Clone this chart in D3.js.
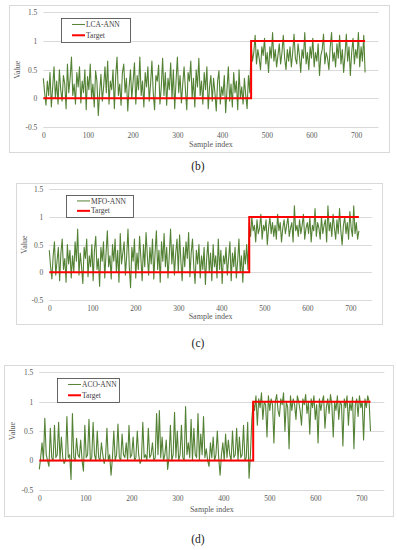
<!DOCTYPE html>
<html lang="en">
<head>
<meta charset="UTF-8">
<title>Value vs sample index</title>
<script src="https://cdn.jsdelivr.net/npm/d3@7"></script>
<style>
    body { margin: 0; background: #fff; }
    svg text { font-family: "Liberation Serif", "DejaVu Serif", serif; }
</style>
</head>
<body>
<script>
// sample index of each point = position * 3 (0..720)
var step = 3
var switchAt = 465

// LCA-ANN output
var lcaValues = [
    0.35, 0.1, -0.12, 0.3, 0.05, 0.45, -0.15, 0.2, 0.55, 0.0,
    0.3, -0.1, 0.5, 0.15, -0.05, 0.4, 0.25, -0.18, 0.6, 0.1,
    0.35, 0.72, 0.05, 0.25, -0.1, 0.45, 0.2, 0.55, -0.08, 0.3,
    0.1, 0.5, -0.2, 0.38, 0.15, 0.6, 0.0, 0.25, -0.15, 0.48,
    0.3, -0.3, 0.1, 0.42, -0.05, 0.2, 0.55, 0.1, 0.65, -0.1,
    0.3, 0.15, 0.5, -0.18, 0.4, 0.72, 0.05, 0.25, -0.12, 0.45,
    0.6, 0.1, 0.35, -0.22, 0.2, 0.5, 0.0, 0.3, 0.62, -0.1,
    0.4, 0.15, 0.72, 0.05, 0.3, -0.15, 0.45, 0.2, 0.55, -0.05,
    0.25, 0.65, 0.1, -0.2, 0.4, 0.3, 0.58, -0.1, 0.2, 0.7,
    0.05, 0.45, -0.12, 0.35, 0.15, 0.62, 0.0, 0.5, -0.18, 0.3,
    0.72, 0.1, 0.4, -0.08, 0.25, 0.55, 0.15, -0.2, 0.45, 0.3,
    0.65, 0.0, 0.35, -0.15, 0.5, 0.2, 0.7, 0.05, 0.3, -0.1,
    0.45, 0.15, 0.55, -0.18, 0.2, 0.4, -0.05, 0.35, 0.1, -0.22,
    0.3, 0.48, -0.1, 0.2, 0.05, 0.4, -0.25, 0.15, 0.55, -0.05,
    0.25, -0.15, 0.45, 0.1, 0.3, -0.2, 0.5, 0.0, 0.2, -0.1,
    0.35, 0.05, -0.18, 0.4, 0.1,
    0.95, 0.65, 0.8, 1.1, 0.6, 0.85, 0.7, 0.5, 0.9, 0.75,
    1.05, 0.6, 0.8, 0.45, 0.9, 0.7, 1.15, 0.65, 0.85, 0.55,
    0.75, 0.95, 0.6, 0.8, 1.1, 0.7, 0.5, 0.85, 0.65, 0.9,
    0.55, 0.8, 1.12, 0.7, 0.6, 0.95, 0.75, 0.45, 0.85, 0.7,
    1.15, 0.6, 0.8, 0.5, 0.9, 0.7, 1.05, 0.55, 0.8, 0.65,
    0.95, 0.4, 0.75, 0.85, 1.12, 0.6, 0.8, 0.7, 0.5, 0.9,
    1.15, 0.65, 0.8, 0.55, 0.95, 0.7, 1.1, 0.6, 0.85, 0.45,
    0.75, 1.12, 0.65, 0.9, 0.4, 0.8, 1.05, 0.6, 0.85, 0.7,
    1.15, 0.55, 0.9, 0.65, 1.1, 0.45
]

// MFO-ANN output
var mfoValues = [
    0.4, 0.1, -0.12, 0.3, 0.55, -0.05, 0.2, 0.45, -0.15, 0.35,
    0.6, 0.05, 0.25, -0.18, 0.5, 0.15, 0.4, -0.1, 0.3, 0.0,
    0.55, 0.2, 0.78, -0.05, 0.35, 0.1, -0.2, 0.45, 0.25, 0.6,
    -0.08, 0.3, 0.1, 0.5, -0.15, 0.4, 0.65, 0.05, 0.25, -0.25,
    0.45, 0.2, 0.55, -0.1, 0.35, 0.75, 0.1, 0.3, -0.12, 0.5,
    0.2, 0.6, 0.0, 0.4, -0.18, 0.7, 0.15, 0.35, 0.55, -0.05,
    0.3, 0.78, 0.1, -0.28, 0.45, 0.2, 0.6, -0.1, 0.35, 0.05,
    0.65, 0.25, -0.15, 0.5, 0.1, 0.72, 0.3, -0.05, 0.45, 0.15,
    0.6, -0.12, 0.35, 0.75, 0.05, 0.4, -0.18, 0.55, 0.2, 0.7,
    0.1, 0.45, -0.1, 0.3, 0.78, 0.15, 0.5, -0.05, 0.35, 0.6,
    0.0, 0.68, 0.2, -0.15, 0.45, 0.1, 0.55, 0.25, 0.72, -0.08,
    0.35, 0.6, 0.1, -0.2, 0.4, 0.15, 0.5, -0.1, 0.3, 0.05,
    0.45, -0.22, 0.25, 0.55, 0.0, 0.35, -0.15, 0.5, 0.1, 0.3,
    -0.1, 0.6, 0.05, 0.4, -0.2, 0.3, 0.15, 0.45, -0.05, 0.25,
    0.55, -0.15, 0.35, 0.1, 0.45, -0.1, 0.2, 0.6, 0.0, 0.3,
    -0.18, 0.4, 0.15, 0.5, 0.05,
    0.9, 0.65, 1.0, 0.75, 0.85, 0.55, 0.95, 0.7, 0.8, 1.05,
    0.6, 0.85, 0.75, 0.95, 0.5, 0.8, 1.0, 0.7, 0.9, 0.65,
    0.85, 0.6, 1.05, 0.75, 0.9, 0.55, 0.8, 0.95, 0.7, 0.85,
    1.0, 0.65, 0.8, 0.9, 0.55, 1.2, 0.75, 0.85, 0.65, 0.95,
    0.7, 0.85, 1.05, 0.6, 0.8, 0.9, 0.7, 1.0, 0.55, 0.85,
    0.75, 1.15, 0.65, 0.9, 0.8, 0.6, 1.0, 0.7, 0.85, 0.95,
    0.55, 1.2, 0.75, 0.9, 0.65, 1.05, 0.8, 0.6, 0.95, 0.7,
    1.15, 0.75, 0.5, 0.85, 1.0, 0.7, 0.9, 0.6, 1.1, 0.8,
    0.65, 1.2, 0.7, 0.9, 0.6, 0.75
]

// ACO-ANN output
var acoValues = [
    -0.15, 0.05, 0.3, 0.0, 0.72, 0.1, 0.0, -0.1, 0.55, 0.05,
    0.0, 0.6, 0.05, 0.1, 0.65, 0.0, 0.4, 0.05, -0.05, 0.0,
    0.75, 0.05, 0.1, -0.32, 0.8, 0.05, 0.0, 0.38, 0.1, 0.05,
    0.35, 0.0, -0.18, 0.6, 0.05, 0.1, 0.7, 0.0, 0.05, 0.65,
    0.1, 0.0, 0.5, 0.05, 0.0, 0.3, 0.1, -0.05, 0.05, 0.55,
    0.0, 0.1, -0.25, 0.05, 0.5, 0.0, 0.1, 0.62, 0.05, 0.0,
    0.45, 0.1, 0.05, 0.3, 0.0, 0.6, 0.05, 0.1, 0.4, 0.0,
    0.05, 0.5, 0.1, -0.05, 0.0, 0.65, 0.05, 0.1, 0.0, 0.55,
    0.05, 0.1, 0.3, 0.0, 0.05, 0.8, 0.1, 0.85, 0.05, 0.4,
    0.0, 0.1, 0.35, -0.15, 0.05, 0.6, 0.0, 0.1, 0.82, 0.05,
    0.5, 0.0, 0.1, 0.6, 0.05, 0.0, 0.92, 0.1, 0.3, 0.05,
    0.7, 0.0, 0.55, 0.1, 0.05, 0.8, 0.0, 0.45, 0.1, 0.75,
    0.05, 0.2, 0.0, -0.1, 0.3, 0.05, 0.4, 0.0, 0.1, 0.5,
    0.05, -0.25, 0.1, 0.3, 0.0, 0.45, 0.05, 0.35, 0.1, 0.0,
    0.5, 0.05, 0.1, 0.55, 0.0, 0.4, 0.05, 0.1, 0.6, 0.0,
    0.05, 0.65, -0.3, 0.1, 0.7,
    1.0, 0.85, 1.1, 0.6, 1.05, 0.9, 1.15, 0.7, 1.0, 0.95,
    0.4, 1.1, 0.85, 1.05, 0.95, 0.3, 1.0, 1.12, 0.85, 0.75,
    1.05, 0.95, 1.15, 0.5, 1.0, 0.9, 0.2, 1.1, 0.85, 1.05,
    0.95, 0.7, 1.1, 1.0, 0.85, 0.6, 1.05, 0.95, 1.12, 0.8,
    1.0, 0.45, 1.05, 0.9, 1.1, 0.7, 0.95, 0.3, 1.05, 0.85,
    1.0, 1.1, 0.55, 0.9, 1.05, 0.8, 1.12, 0.95, 0.4, 1.0,
    0.85, 1.1, 0.7, 1.0, 0.95, 0.25, 1.05, 0.9, 1.1, 0.6,
    1.0, 0.85, 1.08, 0.2, 0.95, 1.05, 0.75, 1.1, 0.9, 1.0,
    0.35, 1.05, 0.9, 1.1, 1.0, 0.5
]

// target: 0 before the switch, 1 after
var targetX = [0, switchAt, switchAt, 720]
var targetY = [0, 0, 1, 1]

var xTicks = [0, 100, 200, 300, 400, 500, 600, 700]
var yTicks = [-0.5, 0, 0.5, 1, 1.5]

var svg = d3.select('body').append('svg')
    .attr('width', 397)
    .attr('height', 550)

// layout of the three stacked panels
var panels = [
    { name: 'LCA-ANN', values: lcaValues, caption: '(b)',
      box: [9, 5, 389, 152], x: [43.3, 378.5], y: [127, 12.4],
      legend: [61, 18, 69, 24], yLab: 17, xLab: 147, capY: 170 },
    { name: 'MFO-ANN', values: mfoValues, caption: '(c)',
      box: [16, 183, 382, 324], x: [49.3, 371.8], y: [300, 189.3],
      legend: [66, 195, 67, 22], yLab: 24, xLab: 319, capY: 347 },
    { name: 'ACO-ANN', values: acoValues, caption: '(d)',
      box: [4, 365, 393, 516], x: [39.3, 384.3], y: [490, 372.3],
      legend: [57, 378, 62, 24], yLab: 12, xLab: 512, capY: 543 }
]

panels.forEach(function (p) {
    var g = svg.append('g')

    // outer chart border
    g.append('rect')
        .attr('x', p.box[0] + 0.5).attr('y', p.box[1] + 0.5)
        .attr('width', p.box[2] - p.box[0]).attr('height', p.box[3] - p.box[1])
        .attr('fill', '#fff').attr('stroke', '#d9d9d9')

    var x = d3.scaleLinear().domain([0, 750]).range(p.x)
    var y = d3.scaleLinear().domain([-0.5, 1.5]).range(p.y)

    // horizontal gridlines
    g.selectAll('.grid').data(yTicks).enter().append('line')
        .attr('x1', p.x[0]).attr('x2', p.x[1])
        .attr('y1', function (d) { return Math.round(y(d)) + 0.5 })
        .attr('y2', function (d) { return Math.round(y(d)) + 0.5 })
        .attr('stroke', '#d9d9d9')

    // y axis labels
    var yAxis = d3.axisLeft(y).tickValues(yTicks).tickSize(0).tickPadding(6)
        .tickFormat(function (d) { return d })
    g.append('g').attr('transform', 'translate(' + p.x[0] + ',0)').call(yAxis)
        .call(function (s) {
            s.select('.domain').remove()
            s.selectAll('text').attr('fill', '#595959').attr('font-size', '7.5px')
                .attr('font-family', '"Liberation Serif", serif')
        })

    // x axis labels
    var xAxis = d3.axisBottom(x).tickValues(xTicks).tickSize(0).tickPadding(6)
    g.append('g').attr('transform', 'translate(0,' + p.y[0] + ')').call(xAxis)
        .call(function (s) {
            s.select('.domain').remove()
            s.selectAll('text').attr('fill', '#595959').attr('font-size', '7.5px')
                .attr('font-family', '"Liberation Serif", serif')
        })

    // series line
    var line = d3.line()
        .x(function (d, i) { return x(i * step) })
        .y(function (d) { return y(d) })
    g.append('path').datum(p.values)
        .attr('d', line)
        .attr('fill', 'none')
        .attr('stroke', '#548235')
        .attr('stroke-width', 1.1)
        .attr('stroke-linejoin', 'round')

    // target step
    var tLine = d3.line()
        .x(function (d) { return x(d) })
        .y(function (d, i) { return y(targetY[i]) })
    g.append('path').datum(targetX)
        .attr('d', tLine)
        .attr('fill', 'none')
        .attr('stroke', '#ff0000')
        .attr('stroke-width', 2)

    // axis titles
    g.append('text')
        .attr('transform', 'translate(' + p.yLab + ',' + ((p.y[0] + p.y[1]) / 2) + ') rotate(-90)')
        .attr('text-anchor', 'middle').attr('dy', '0.35em')
        .attr('font-size', '8px').attr('fill', '#595959')
        .text('Value')
    g.append('text')
        .attr('x', (p.x[0] + p.x[1]) / 2).attr('y', p.xLab)
        .attr('text-anchor', 'middle')
        .attr('font-size', '8px').attr('fill', '#595959')
        .text('Sample index')

    // legend
    var L = p.legend
    var lg = g.append('g').attr('transform', 'translate(' + L[0] + ',' + L[1] + ')')
    lg.append('rect')
        .attr('x', 0.5).attr('y', 0.5).attr('width', L[2]).attr('height', L[3])
        .attr('fill', '#fff').attr('stroke', '#404040').attr('stroke-width', 0.8)
    var items = [
        { label: p.name, color: '#548235', w: 1 },
        { label: 'Target', color: '#ff0000', w: 2 }
    ]
    items.forEach(function (it, i) {
        var cy = L[3] * (i === 0 ? 0.27 : 0.72)
        lg.append('line')
            .attr('x1', 11).attr('x2', 24).attr('y1', cy).attr('y2', cy)
            .attr('stroke', it.color).attr('stroke-width', it.w)
        lg.append('text')
            .attr('x', 25).attr('y', cy).attr('dy', '0.35em')
            .attr('font-size', '7.5px').attr('fill', '#404040')
            .text(it.label)
    })

    // panel caption
    svg.append('text')
        .attr('x', 198).attr('y', p.capY)
        .attr('text-anchor', 'middle')
        .attr('font-size', '11.5px').attr('fill', '#222')
        .text(p.caption)
})
</script>
</body>
</html>
